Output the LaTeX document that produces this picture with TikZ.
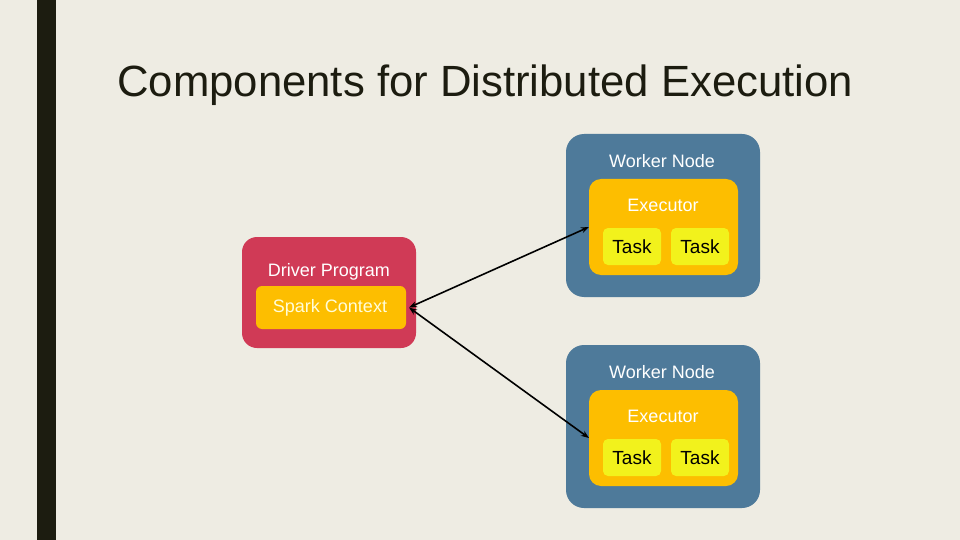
\documentclass[tikz,border=0pt]{standalone}
\usepackage{fontspec}
\setmainfont{Liberation Sans}
\usetikzlibrary{arrows.meta}

\begin{document}
\begin{tikzpicture}[x=1pt,y=-1pt]
        \definecolor{bgcol}{RGB}{238,236,227}
        \definecolor{barcol}{RGB}{28,28,16}
        \definecolor{drivercol}{RGB}{208,58,86}
        \definecolor{workercol}{RGB}{78,122,154}
        \definecolor{execcol}{RGB}{253,190,0}
        \definecolor{taskcol}{RGB}{242,242,28}

        \tikzset{box/.style={inner sep=0pt, outer sep=0pt},
                 lbl/.style={font=\fontsize{18}{20}\selectfont, text=white, inner sep=0pt},
                 tasklbl/.style={font=\fontsize{19}{21}\selectfont, text=black, inner sep=0pt},
                 link/.style={{Stealth[length=8pt,width=6pt]}-{Stealth[length=8pt,width=6pt]}, line width=1.6pt}}

        \fill [bgcol] (0,0) rectangle (960,540);
        \useasboundingbox (0,0) rectangle (960,540);
        \fill [barcol] (37,0) rectangle (56,540);

        \node [anchor=base west, inner sep=0pt, text=barcol, font=\fontsize{43.7}{48}\selectfont] (title) at (117,97) {Components for Distributed Execution};

        % driver
        \node [box, fill=drivercol, rounded corners=15pt, minimum width=174pt, minimum height=111pt] (driver) at (329,292.5) {};
        \node [box, fill=execcol, rounded corners=6pt, minimum width=150pt, minimum height=43pt] (spark) at (331,307.5) {};
        \node [lbl] (driverlbl) at (329,272) {Driver Program};
        \node [lbl, text=yellow!15] (sparklbl) at (330,307.5) {Spark Context};

        % workers
        \foreach \n/\dy in {1/0, 2/211} {
            \node [box, fill=workercol, rounded corners=18pt, minimum width=194pt, minimum height=163pt] (worker\n) at (663,215.5+\dy) {};
            \node [box, fill=execcol, rounded corners=12pt, minimum width=149pt, minimum height=96pt] (exec\n) at (663.5,227+\dy) {};
            \node [box, fill=taskcol, rounded corners=5pt, minimum width=58pt, minimum height=37pt] (taska\n) at (632,246.5+\dy) {};
            \node [box, fill=taskcol, rounded corners=5pt, minimum width=58pt, minimum height=37pt] (taskb\n) at (700,246.5+\dy) {};
            \node [lbl] (workerlbl\n) at (662,161.5+\dy) {Worker Node};
            \node [lbl] (execlbl\n) at (663,205.5+\dy) {Executor};
            \node [tasklbl] (taskalbl\n) at (632,246.5+\dy) {Task};
            \node [tasklbl] (taskblbl\n) at (700,246.5+\dy) {Task};
        }

        \draw [link] ([xshift=3pt]spark.east) -- (exec1.west);
        \draw [link] ([xshift=3pt]spark.east) -- (exec2.west);

\end{tikzpicture}
\end{document}
